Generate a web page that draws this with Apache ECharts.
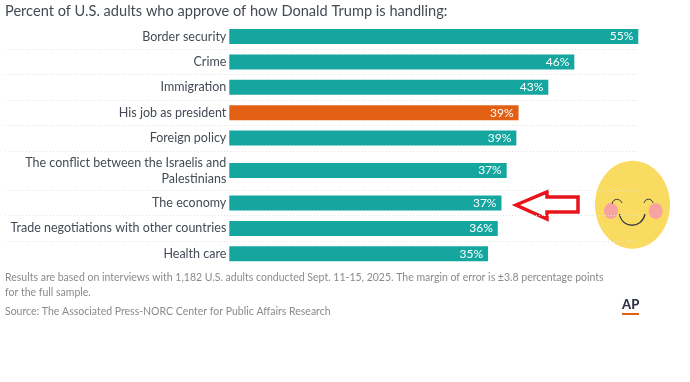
<!DOCTYPE html>
<html>
<head>
<meta charset="utf-8">
<style>
  html, body { margin: 0; padding: 0; background: #fff; }
  #chart { width: 690px; height: 382px; }
</style>
<script src="https://cdn.jsdelivr.net/npm/echarts@6/dist/echarts.min.js"></script>
</head>
<body>
<div id="chart"></div>
<script>
var categories = [
  "Border security",
  "Crime",
  "Immigration",
  "His job as president",
  "Foreign policy",
  "The conflict between the Israelis and\nPalestinians",
  "The economy",
  "Trade negotiations with other countries",
  "Health care"
];
// labels are these rounded
var approve = [55, 46.4, 42.9, 38.9, 38.6, 37.3, 36.6, 36.1, 34.8];
var highlight = "His job as president";
var titleText = "Percent of U.S. adults who approve of how Donald Trump is handling:";
var noteText = "Results are based on interviews with 1,182 U.S. adults conducted Sept. 11-15, 2025. The margin of error is \u00b13.8 percentage points\nfor the full sample.";
var sourceText = "Source: The Associated Press-NORC Center for Public Affairs Research";

var TEAL = "#14a69f", ORANGE = "#e26014", INK = "#444b55", GREY = "#8a8a8a";
var FONT = "Lato";

// the two line row is taller, so each block of rows gets its own grid
var ROW = 25.4;
var blocks = [
  { from: 0, to: 5, top: 23.8, height: ROW * 5, minLine: false, maxLine: true },
  { from: 5, to: 6, top: 150.8, height: 39.5, minLine: false, maxLine: false },
  { from: 6, to: 9, top: 190.3, height: ROW * 3, minLine: true, maxLine: false }
];

var grids = [], xAxes = [], yAxes = [], series = [];
blocks.forEach(function (b, i) {
  // grid starts at the left edge so the dotted row lines run under the labels
  grids.push({ left: 5, width: 633.3, top: b.top, height: b.height, outerBoundsMode: "none" });
  xAxes.push({ type: "value", gridIndex: i, min: -30.16, max: 55, show: false });
  yAxes.push({
    type: "category",
    gridIndex: i,
    inverse: true,
    data: categories.slice(b.from, b.to),
    axisLine: { show: false },
    axisTick: { show: false },
    axisLabel: {
      color: INK,
      fontFamily: FONT,
      fontSize: 12.5,
      lineHeight: 16,
      margin: -221.3,
      align: "right"
    },
    splitLine: {
      show: true,
      showMinLine: b.minLine,
      showMaxLine: b.maxLine,
      lineStyle: { color: "#e2e2e2", type: [1, 2], width: 1 }
    }
  });
  series.push({
    type: "bar",
    xAxisIndex: i,
    yAxisIndex: i,
    barWidth: 15,
    silent: true,
    data: approve.slice(b.from, b.to).map(function (v, k) {
      var isHi = categories[b.from + k] === highlight;
      return { value: v, itemStyle: { color: isHi ? ORANGE : TEAL } };
    }),
    label: {
      show: true,
      position: "insideRight",
      distance: 5,
      color: "#fff",
      fontFamily: FONT,
      fontSize: 12,
      formatter: function (p) {
        return Math.round(p.value) + "%";
      }
    }
  });
});

var myChart = echarts.init(document.getElementById("chart"));
myChart.setOption({
  backgroundColor: "#fff",
  animation: false,
  title: [
    {
      text: titleText, left: 5, top: 4, padding: 0,
      textStyle: { color: INK, fontFamily: FONT, fontSize: 14.6, fontWeight: "normal" }
    },
    {
      text: noteText, left: 5, top: 270, padding: 0,
      textStyle: { color: GREY, fontFamily: FONT, fontSize: 10.5, fontWeight: "normal", lineHeight: 15 }
    },
    {
      text: sourceText, left: 5, top: 306, padding: 0,
      textStyle: { color: GREY, fontFamily: FONT, fontSize: 10.5, fontWeight: "normal" }
    }
  ],
  grid: grids,
  xAxis: xAxes,
  yAxis: yAxes,
  series: series,
  graphic: [
    // AP logo
    {
      type: "text", left: 622, top: 298,
      style: { text: "AP", fill: "#2f3147", font: "900 13px Lato" }
    },
    {
      type: "rect", shape: { x: 622, y: 313, width: 17, height: 2 },
      style: { fill: ORANGE }
    },
    // red arrow
    {
      type: "polygon",
      shape: { points: [[516, 205], [547, 192], [547, 197], [578, 197], [578, 212], [547, 212], [547, 219]] },
      style: { fill: "#fff", stroke: "#e8141c", lineWidth: 3.5 }
    },
    // smiley
    {
      type: "ellipse", shape: { cx: 632.5, cy: 204.7, rx: 37.5, ry: 44 },
      style: { fill: "#fadb61" }
    },
    {
      type: "ellipse", shape: { cx: 611, cy: 211, rx: 7, ry: 8 },
      style: { fill: "#f7a3a0" }
    },
    {
      type: "ellipse", shape: { cx: 655.7, cy: 211, rx: 7, ry: 8 },
      style: { fill: "#f7a3a0" }
    },
    {
      type: "bezierCurve",
      shape: { x1: 612, y1: 204, x2: 622, y2: 203, cpx1: 613, cpy1: 198, cpx2: 620, cpy2: 198 },
      style: { fill: null, stroke: "#3a3a45", lineWidth: 1 }
    },
    {
      type: "bezierCurve",
      shape: { x1: 644, y1: 203, x2: 653, y2: 203, cpx1: 645, cpy1: 198, cpx2: 652, cpy2: 198 },
      style: { fill: null, stroke: "#3a3a45", lineWidth: 1 }
    },
    {
      type: "bezierCurve",
      shape: { x1: 619.5, y1: 214, x2: 645, y2: 214, cpx1: 622, cpy1: 229, cpx2: 642, cpy2: 229 },
      style: { fill: null, stroke: "#3a3a45", lineWidth: 1.3 }
    }
  ]
});
</script>
</body>
</html>
